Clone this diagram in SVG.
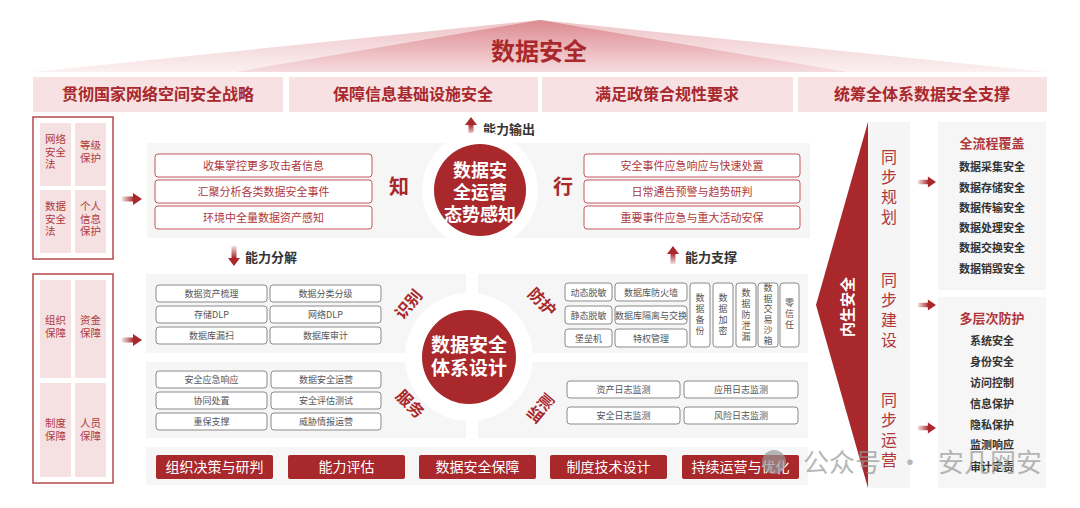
<svg xmlns="http://www.w3.org/2000/svg" width="1080" height="508" viewBox="0 0 1080 508">
<defs>
<linearGradient id="roofOuter" x1="0" y1="0" x2="0" y2="1"><stop offset="0" stop-color="#eec4c7"/><stop offset="1" stop-color="#fbf0f1"/></linearGradient>
<linearGradient id="roofInner" x1="0" y1="0" x2="0" y2="1"><stop offset="0" stop-color="#dc8a90"/><stop offset="1" stop-color="#f6dcdf"/></linearGradient>
<linearGradient id="shaftR" x1="0" y1="0" x2="1" y2="0"><stop offset="0" stop-color="#a8282c" stop-opacity="0.15"/><stop offset="1" stop-color="#a8282c"/></linearGradient>
<linearGradient id="shaftU" x1="0" y1="1" x2="0" y2="0"><stop offset="0" stop-color="#a8282c" stop-opacity="0.15"/><stop offset="1" stop-color="#a8282c"/></linearGradient>
<linearGradient id="shaftD" x1="0" y1="0" x2="0" y2="1"><stop offset="0" stop-color="#a8282c" stop-opacity="0.15"/><stop offset="1" stop-color="#a8282c"/></linearGradient>
<g id="arrR"><rect x="0" y="-2.5" width="12" height="5" fill="url(#shaftR)"/><polygon points="11,-6 20,0 11,6" fill="#a8282c"/></g>
<g id="arrUp"><rect x="-2.5" y="7" width="5" height="11" fill="url(#shaftU)"/><polygon points="0,0 6,8 -6,8" fill="#a8282c"/></g>
<g id="arrDown"><rect x="-2.5" y="0" width="5" height="12" fill="url(#shaftD)"/><polygon points="0,20 6,12 -6,12" fill="#a8282c"/></g>
</defs>
<style>
text{font-family:"Noto Sans CJK SC","Liberation Sans",sans-serif;}
.bn{fill:#f7e1e3}
.bt{font-size:16px;font-weight:bold;fill:#a8282c;text-anchor:middle}
.lbox{fill:none;stroke:#b5474b;stroke-width:1.5}
.cell{fill:#f5e1e2}
.ct{font-size:10.5px;fill:#b03a3e}
.grey{fill:#f6f6f6}
.rb{fill:#fff;stroke:#c4585c;stroke-width:1;rx:3}
.rt{font-size:11px;fill:#b0383c;text-anchor:middle}
.gb{fill:#fff;stroke:#8a8a8a;stroke-width:1;rx:3}
.gt{font-size:9px;fill:#555;text-anchor:middle}
.big{font-size:20px;font-weight:bold;fill:#a8282c;text-anchor:middle}
.circ{fill:#a8282c}
.cw{font-size:19px;font-weight:bold;fill:#fff;text-anchor:middle}
.cw2{font-size:18px;font-weight:bold;fill:#fff;text-anchor:middle}
.lab{font-size:13px;font-weight:bold;fill:#333}
.quad{font-size:16px;font-weight:bold;fill:#a8282c;text-anchor:middle}
.btn{fill:#a8282c;rx:2}
.btt{font-size:14px;fill:#fff;text-anchor:middle}
.vt{font-size:16px;fill:#b0383c;text-anchor:middle}
.pt{font-size:13px;font-weight:bold;fill:#b0383c;text-anchor:middle}
.pi{font-size:11px;font-weight:bold;fill:#333;text-anchor:middle}
</style>

<g id="roof">
<polygon points="540,20 1047,72 33,72" fill="url(#roofOuter)"/>
<polygon points="540,20 847,72 235,72" fill="url(#roofInner)"/>
<text x="539" y="60" font-size="24" font-weight="bold" fill="#a8282c" text-anchor="middle">数据安全</text>
</g>

<g id="banners">
<rect class="bn" x="33" y="77" width="250" height="35"/>
<rect class="bn" x="289" y="77" width="249" height="35"/>
<rect class="bn" x="542" y="77" width="251" height="35"/>
<rect class="bn" x="798" y="77" width="249" height="35"/>
<text class="bt" x="158" y="100">贯彻国家网络空间安全战略</text>
<text class="bt" x="413" y="100">保障信息基础设施安全</text>
<text class="bt" x="667" y="100">满足政策合规性要求</text>
<text class="bt" x="922" y="100">统筹全体系数据安全支撑</text>
</g>

<g id="law-panel">
<rect class="lbox" x="33" y="117" width="80" height="142"/>
<rect class="cell" x="40" y="123" width="31" height="63"/>
<rect class="cell" x="75" y="123" width="31" height="63"/>
<rect class="cell" x="40" y="190" width="31" height="63"/>
<rect class="cell" x="75" y="190" width="31" height="63"/>
<text class="ct" x="45" y="143">网络<tspan x="45" dy="12.5">安全</tspan><tspan x="45" dy="12.5">法</tspan></text>
<text class="ct" x="90.5" y="149" text-anchor="middle">等级<tspan x="90.5" dy="12.5">保护</tspan></text>
<text class="ct" x="45" y="210">数据<tspan x="45" dy="12.5">安全</tspan><tspan x="45" dy="12.5">法</tspan></text>
<text class="ct" x="90.5" y="210" text-anchor="middle">个人<tspan x="90.5" dy="12.5">信息</tspan><tspan x="90.5" dy="12.5">保护</tspan></text>
</g>

<g id="guarantee-panel">
<rect class="lbox" x="33" y="274" width="80" height="209"/>
<rect class="cell" x="40" y="280" width="31" height="98"/>
<rect class="cell" x="75" y="280" width="31" height="98"/>
<rect class="cell" x="40" y="383" width="31" height="94"/>
<rect class="cell" x="75" y="383" width="31" height="94"/>
<text class="ct" x="55.5" y="324" text-anchor="middle">组织<tspan x="55.5" dy="13">保障</tspan></text>
<text class="ct" x="90.5" y="324" text-anchor="middle">资金<tspan x="90.5" dy="13">保障</tspan></text>
<text class="ct" x="55.5" y="427" text-anchor="middle">制度<tspan x="55.5" dy="13">保障</tspan></text>
<text class="ct" x="90.5" y="427" text-anchor="middle">人员<tspan x="90.5" dy="13">保障</tspan></text>
</g>

<g id="connectors">
<use href="#arrR" transform="translate(122,199)"/>
<use href="#arrR" transform="translate(122,340)"/>
<use href="#arrUp" transform="translate(471,117)"/>
<use href="#arrDown" transform="translate(234,246)"/>
<use href="#arrUp" transform="translate(673,246)"/>
<use href="#arrR" transform="translate(918,182) scale(0.9)"/>
<use href="#arrR" transform="translate(918,305) scale(0.9)"/>
<use href="#arrR" transform="translate(918,428) scale(0.9)"/>
</g>

<g id="labels">
<text class="lab" x="483" y="134">能力输出</text>
<text class="lab" x="245" y="262">能力分解</text>
<text class="lab" x="685" y="262">能力支撑</text>
</g>

<g id="situation">
<rect class="grey" x="147" y="143" width="663" height="95"/>
<circle cx="480" cy="190" r="58" fill="#fff"/>
<rect class="rb" x="155" y="154" width="217" height="23"/>
<rect class="rb" x="155" y="180" width="217" height="23"/>
<rect class="rb" x="155" y="206" width="217" height="23"/>
<text class="rt" x="263.5" y="169.5">收集掌控更多攻击者信息</text>
<text class="rt" x="263.5" y="195.5">汇聚分析各类数据安全事件</text>
<text class="rt" x="263.5" y="221.5">环境中全量数据资产感知</text>
<text class="big" x="399" y="194">知</text>
<circle class="circ" cx="480" cy="190" r="46"/>
<text class="cw2" x="480" y="177">数据安</text>
<text class="cw2" x="480" y="199">全运营</text>
<text class="cw2" x="480" y="221">态势感知</text>
<text class="big" x="563" y="194">行</text>
<rect class="rb" x="584" y="154" width="216" height="23"/>
<rect class="rb" x="584" y="180" width="216" height="23"/>
<rect class="rb" x="584" y="206" width="216" height="23"/>
<text class="rt" x="692" y="169.5">安全事件应急响应与快速处置</text>
<text class="rt" x="692" y="195.5">日常通告预警与趋势研判</text>
<text class="rt" x="692" y="221.5">重要事件应急与重大活动安保</text>
</g>

<g id="system-design">
<rect class="grey" x="146" y="274" width="320" height="79"/>
<rect class="grey" x="478" y="274" width="330" height="79"/>
<rect class="grey" x="146" y="362" width="320" height="76"/>
<rect class="grey" x="478" y="362" width="330" height="76"/>
<circle cx="469" cy="357" r="64" fill="#fff"/>
<circle class="circ" cx="469" cy="357" r="47"/>
<text class="cw" x="469" y="352">数据安全</text>
<text class="cw" x="469" y="375">体系设计</text>
<text class="quad" transform="translate(413,308) rotate(-50)">识别</text>
<text class="quad" transform="translate(538,306) rotate(45)">防护</text>
<text class="quad" transform="translate(406,408) rotate(45)">服务</text>
<text class="quad" transform="translate(545,412) rotate(-50)">监测</text>
</g>

<g id="identify">
<rect class="gb" x="156" y="285" width="111" height="17"/>
<rect class="gb" x="270" y="285" width="111" height="17"/>
<rect class="gb" x="156" y="306" width="111" height="17"/>
<rect class="gb" x="270" y="306" width="111" height="17"/>
<rect class="gb" x="156" y="327" width="111" height="17"/>
<rect class="gb" x="270" y="327" width="111" height="17"/>
<text class="gt" x="211.5" y="297">数据资产梳理</text>
<text class="gt" x="325.5" y="297">数据分类分级</text>
<text class="gt" x="211.5" y="318">存储DLP</text>
<text class="gt" x="325.5" y="318">网络DLP</text>
<text class="gt" x="211.5" y="339">数据库漏扫</text>
<text class="gt" x="325.5" y="339">数据库审计</text>
</g>

<g id="protect">
<rect class="gb" x="565" y="283" width="47" height="18"/>
<rect class="gb" x="615" y="283" width="72" height="18"/>
<rect class="gb" x="565" y="306" width="47" height="18"/>
<rect class="gb" x="615" y="306" width="72" height="18"/>
<rect class="gb" x="565" y="329" width="47" height="18"/>
<rect class="gb" x="615" y="329" width="72" height="18"/>
<text class="gt" x="588.5" y="295.5">动态脱敏</text>
<text class="gt" x="651" y="295.5">数据库防火墙</text>
<text class="gt" x="588.5" y="318.5">静态脱敏</text>
<text class="gt" x="651" y="318.5" font-size="8.3">数据库隔离与交换</text>
<text class="gt" x="588.5" y="341.5">堡垒机</text>
<text class="gt" x="651" y="341.5">特权管理</text>
<rect class="gb" x="690" y="283" width="20" height="64"/>
<rect class="gb" x="713" y="283" width="20" height="64"/>
<rect class="gb" x="736" y="283" width="20" height="64"/>
<rect class="gb" x="758" y="283" width="20" height="64"/>
<rect class="gb" x="780" y="283" width="19" height="64"/>
<text class="gt" x="700" y="301">数<tspan x="700" dy="11">据</tspan><tspan x="700" dy="11">备</tspan><tspan x="700" dy="11">份</tspan></text>
<text class="gt" x="723" y="301">数<tspan x="723" dy="11">据</tspan><tspan x="723" dy="11">加</tspan><tspan x="723" dy="11">密</tspan></text>
<text class="gt" x="746" y="296">数<tspan x="746" dy="11">据</tspan><tspan x="746" dy="11">防</tspan><tspan x="746" dy="11">泄</tspan><tspan x="746" dy="11">漏</tspan></text>
<text class="gt" x="768" y="291">数<tspan x="768" dy="10.5">据</tspan><tspan x="768" dy="10.5">交</tspan><tspan x="768" dy="10.5">易</tspan><tspan x="768" dy="10.5">沙</tspan><tspan x="768" dy="10.5">箱</tspan></text>
<text class="gt" x="789.5" y="306">零<tspan x="789.5" dy="11">信</tspan><tspan x="789.5" dy="11">任</tspan></text>
</g>

<g id="service">
<rect class="gb" x="156" y="371" width="111" height="17"/>
<rect class="gb" x="271" y="371" width="110" height="17"/>
<rect class="gb" x="156" y="392" width="111" height="17"/>
<rect class="gb" x="271" y="392" width="110" height="17"/>
<rect class="gb" x="156" y="413" width="111" height="17"/>
<rect class="gb" x="271" y="413" width="110" height="17"/>
<text class="gt" x="211.5" y="383">安全应急响应</text>
<text class="gt" x="326" y="383">数据安全运营</text>
<text class="gt" x="211.5" y="404">协同处置</text>
<text class="gt" x="326" y="404">安全评估测试</text>
<text class="gt" x="211.5" y="425">重保支撑</text>
<text class="gt" x="326" y="425">威胁情报运营</text>
</g>

<g id="monitor">
<rect class="gb" x="567" y="381" width="113" height="17"/>
<rect class="gb" x="684" y="381" width="114" height="17"/>
<rect class="gb" x="567" y="407" width="113" height="17"/>
<rect class="gb" x="684" y="407" width="114" height="17"/>
<text class="gt" x="623.5" y="393">资产日志监测</text>
<text class="gt" x="741" y="393">应用日志监测</text>
<text class="gt" x="623.5" y="419">安全日志监测</text>
<text class="gt" x="741" y="419">风险日志监测</text>
</g>

<g id="bottom-buttons">
<rect class="grey" x="146" y="447" width="662" height="38"/>
<rect class="btn" x="156" y="455" width="117" height="24"/>
<rect class="btn" x="288" y="455" width="117" height="24"/>
<rect class="btn" x="419" y="455" width="117" height="24"/>
<rect class="btn" x="550" y="455" width="117" height="24"/>
<rect class="btn" x="682" y="455" width="117" height="24"/>
<text class="btt" x="214.5" y="472">组织决策与研判</text>
<text class="btt" x="346.5" y="472">能力评估</text>
<text class="btt" x="477.5" y="472">数据安全保障</text>
<text class="btt" x="608.5" y="472">制度技术设计</text>
<text class="btt" x="740.5" y="472">持续运营与优化</text>
</g>

<g id="inherent">
<polygon points="816,305 868,122 868,488" fill="#a8282c"/>
<text transform="translate(853,307) rotate(-90)" font-size="15" font-weight="bold" fill="#fff" text-anchor="middle">内生安全</text>
<rect x="868" y="122" width="42" height="366" fill="#f5f5f5"/>
<text class="vt" x="889" y="163">同<tspan x="889" dy="20">步</tspan><tspan x="889" dy="20">规</tspan><tspan x="889" dy="20">划</tspan></text>
<text class="vt" x="889" y="286">同<tspan x="889" dy="20">步</tspan><tspan x="889" dy="20">建</tspan><tspan x="889" dy="20">设</tspan></text>
<text class="vt" x="889" y="406">同<tspan x="889" dy="20">步</tspan><tspan x="889" dy="20">运</tspan><tspan x="889" dy="20">营</tspan></text>
</g>

<g id="full-process">
<rect x="938" y="122" width="108" height="168" fill="#f6f6f6"/>
<text class="pt" x="992" y="148">全流程覆盖</text>
<text class="pi" x="992" y="171">数据采集安全</text>
<text class="pi" x="992" y="192">数据存储安全</text>
<text class="pi" x="992" y="212">数据传输安全</text>
<text class="pi" x="992" y="232">数据处理安全</text>
<text class="pi" x="992" y="252">数据交换安全</text>
<text class="pi" x="992" y="273">数据销毁安全</text>
</g>

<g id="multi-layer">
<rect x="938" y="297" width="108" height="191" fill="#f6f6f6"/>
<text class="pt" x="992" y="323">多层次防护</text>
<text class="pi" x="992" y="345">系统安全</text>
<text class="pi" x="992" y="366">身份安全</text>
<text class="pi" x="992" y="387">访问控制</text>
<text class="pi" x="992" y="408">信息保护</text>
<text class="pi" x="992" y="429">隐私保护</text>
<text class="pi" x="992" y="449">监测响应</text>
<text class="pi" x="992" y="471">审计定责</text>
</g>

<g id="watermark" opacity="0.7">
<circle cx="774" cy="462" r="12" fill="#999"/>
<text x="803" y="472" font-size="26" fill="#999">公众号</text>
<text x="910" y="472" font-size="26" fill="#999" text-anchor="middle">·</text>
<text x="938" y="472" font-size="26" fill="#999">安几网安</text>
</g>
</svg>
